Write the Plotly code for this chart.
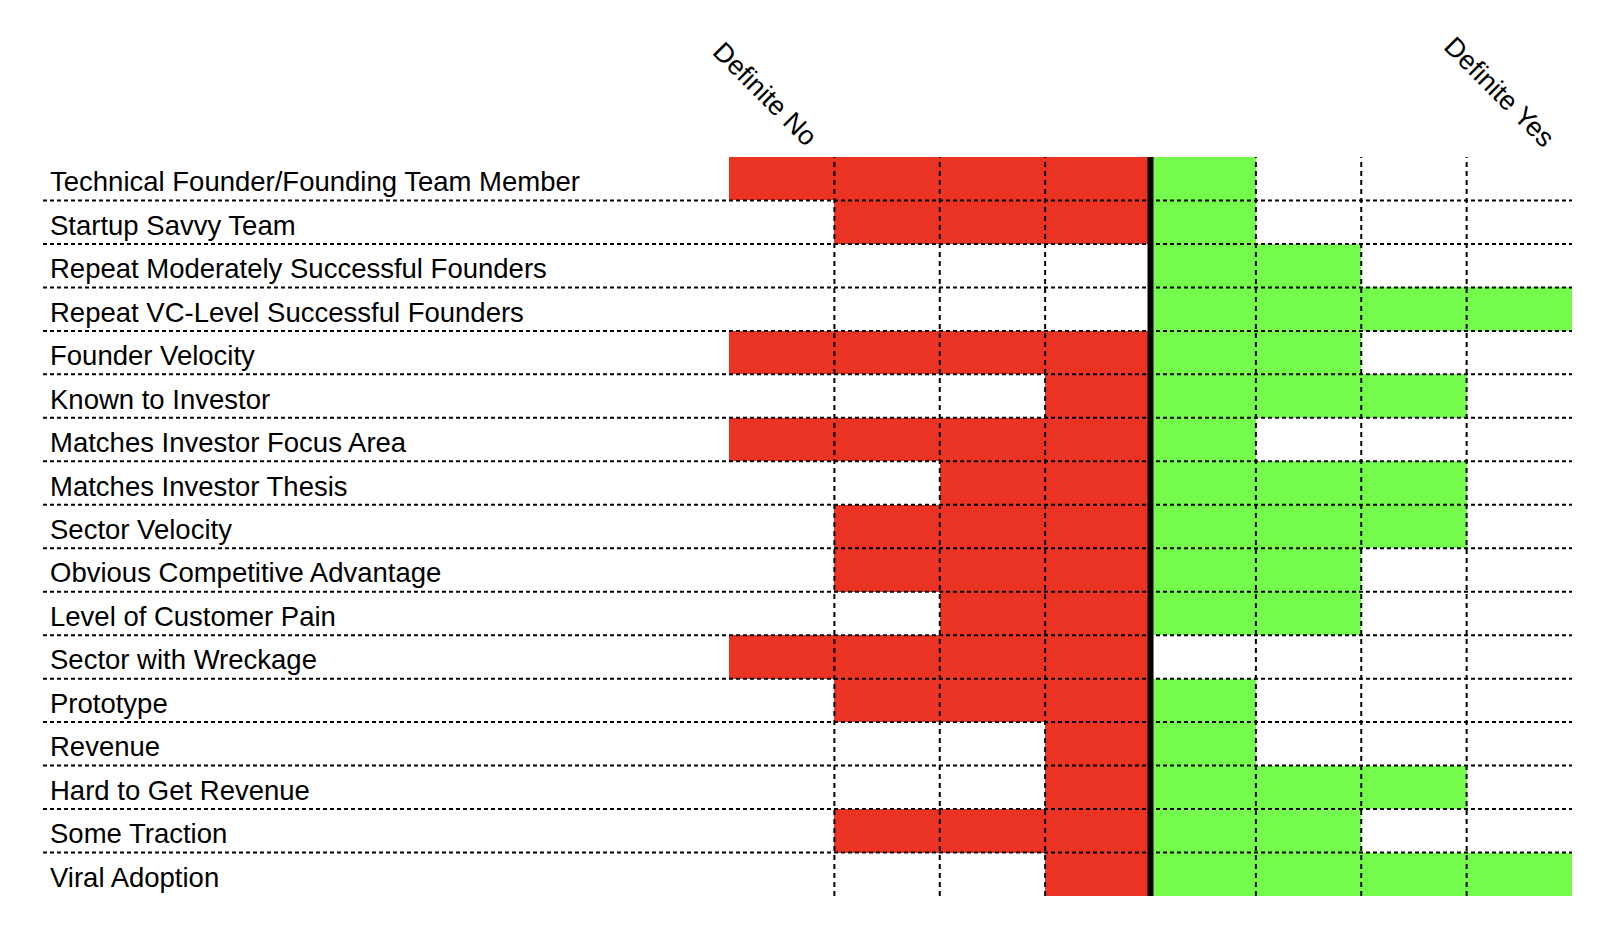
import plotly.graph_objects as go

categories = [
    "Technical Founder/Founding Team Member",
    "Startup Savvy Team",
    "Repeat Moderately Successful Founders",
    "Repeat VC-Level Successful Founders",
    "Founder Velocity",
    "Known to Investor",
    "Matches Investor Focus Area",
    "Matches Investor Thesis",
    "Sector Velocity",
    "Obvious Competitive Advantage",
    "Level of Customer Pain",
    "Sector with Wreckage",
    "Prototype",
    "Revenue",
    "Hard to Get Revenue",
    "Some Traction",
    "Viral Adoption",
]
no_values = [-4, -3, 0, 0, -4, -1, -4, -2, -3, -3, -2, -4, -3, -1, -1, -3, -1]
yes_values = [1, 1, 2, 4, 2, 3, 1, 3, 3, 2, 2, 0, 1, 1, 3, 2, 4]
scale_labels = ["Definite No", "Definite Yes"]
grid_ticks = [-3, -2, -1, 1, 2, 3]

RED = "#EA3323"
GREEN = "#75FB4C"
FONT = "Liberation Sans, Arial, sans-serif"

OFF = 8  # default body margin of the html page
W, H = 1598 - 2 * OFF, 928 - 2 * OFF
ML = 729 - OFF
MT = 157 - OFF
MR = W - (1572 - OFF)
MB = H - (896 - OFF)
plot_w = W - ML - MR

fig = go.Figure()
fig.add_trace(go.Bar(y=categories, x=no_values, orientation="h",
                     marker=dict(color=RED, line=dict(width=0)), showlegend=False,
                     hoverinfo="skip"))
fig.add_trace(go.Bar(y=categories, x=yes_values, orientation="h",
                     marker=dict(color=GREEN, line=dict(width=0)), showlegend=False,
                     hoverinfo="skip"))

shapes = []
# horizontal dashed separators
x_left_paper = (43 - 729) / plot_w
for i in range(len(categories) - 1):
    shapes.append(dict(type="line", xref="paper", yref="y",
                       x0=x_left_paper, x1=1, y0=i + 0.5, y1=i + 0.5,
                       line=dict(color="black", width=2, dash="4px,3px"), layer="above"))
# vertical dashed lines
for t in grid_ticks:
    shapes.append(dict(type="line", xref="x", yref="paper", x0=t, x1=t, y0=0, y1=1,
                       line=dict(color="black", width=2, dash="5px,4px"), layer="above"))
# center line
shapes.append(dict(type="line", xref="x", yref="paper", x0=0, x1=0, y0=0, y1=1,
                   line=dict(color="black", width=6), layer="above"))

annotations = []
for c in categories:
    annotations.append(dict(xref="paper", yref="y", x=(48 - 729) / plot_w, y=c, yshift=-3,
                            text=c, showarrow=False, xanchor="left", yanchor="middle",
                            font=dict(family=FONT, size=27.5, color="black")))
annotations.append(dict(xref="x", yref="paper", x=-3.66, y=1.085, text=scale_labels[0],
                        showarrow=False, textangle=45, xanchor="center", yanchor="middle",
                        font=dict(family=FONT, size=27, color="black")))
annotations.append(dict(xref="x", yref="paper", x=3.31, y=1.088, text=scale_labels[1],
                        showarrow=False, textangle=45, xanchor="center", yanchor="middle",
                        font=dict(family=FONT, size=27, color="black")))

fig.update_layout(
    width=W, height=H,
    margin=dict(l=ML, r=MR, t=MT, b=MB, pad=0),
    paper_bgcolor="white", plot_bgcolor="white",
    barmode="relative", bargap=0,
    xaxis=dict(range=[-4, 4], showgrid=False, zeroline=False, showticklabels=False,
               ticks="", showline=False, fixedrange=True),
    yaxis=dict(range=[len(categories) - 0.5, -0.5], showgrid=False, zeroline=False,
               showticklabels=False, ticks="", showline=False, fixedrange=True,
               type="category", categoryorder="array", categoryarray=categories),
    shapes=shapes,
    annotations=annotations,
    showlegend=False,
)

fig.write_html("out.html", config={"displayModeBar": False})
